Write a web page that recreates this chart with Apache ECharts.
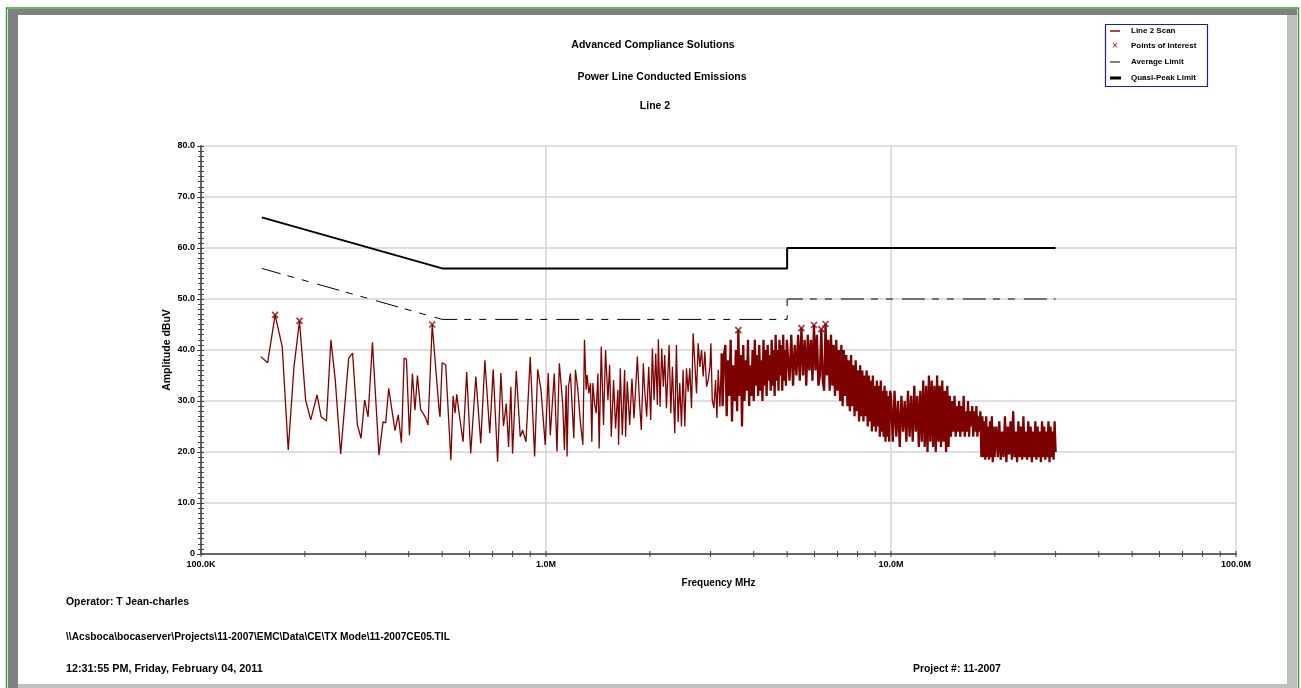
<!DOCTYPE html>
<html><head><meta charset="utf-8">
<script src="https://cdn.jsdelivr.net/npm/echarts@6/dist/echarts.min.js"></script>
<style>html,body{margin:0;padding:0;background:#fff}#c{width:1301px;height:688px}</style>
</head><body><div id="c"></div>
<script>
// ---------- texts ----------
const titleLines = ['Advanced Compliance Solutions', 'Power Line Conducted Emissions', 'Line 2'];
const footerLines = ['Operator: T Jean-charles',
  '\\\\Acsboca\\bocaserver\\Projects\\11-2007\\EMC\\Data\\CE\\TX Mode\\11-2007CE05.TIL',
  '12:31:55 PM, Friday, February 04, 2011'];
const projectText = 'Project #: 11-2007';
const legendNames = ['Line 2 Scan', 'Points of Interest', 'Average Limit', 'Quasi-Peak Limit'];
const xAxisName = 'Frequency MHz';
const yAxisName = 'Amplitude dBuV';
const xTickLabels = {0.1: '100.0K', 1: '1.0M', 10: '10.0M', 100: '100.0M'};

// ---------- data (frequency MHz, amplitude dBuV) ----------
const scanLow = [[0.149,38.7],[0.156,37.5],[0.164,46.9],[0.172,40.6],[0.179,20.4],[0.186,36.7],[0.193,45.7],[0.201,30.2],[0.208,26.3],[0.217,31.2],[0.223,26.9],[0.231,26.1],[0.238,42.0],[0.245,34.1],[0.254,19.6],[0.268,38.4],[0.275,39.4],[0.284,25.3],[0.291,22.7],[0.298,30.2],[0.305,26.9],[0.314,41.5],[0.328,19.4],[0.337,25.9],[0.343,25.7],[0.350,32.5],[0.365,24.2],[0.373,27.3],[0.381,21.8],[0.388,38.4],[0.394,38.2],[0.402,23.3],[0.410,35.4],[0.417,28.2],[0.424,35.0],[0.433,28.4],[0.448,26.7],[0.455,25.3],[0.468,45.0],[0.490,28.2],[0.493,26.9],[0.500,37.5],[0.512,37.1],[0.530,18.4],[0.538,31.0],[0.545,27.6],[0.551,31.3],[0.560,27.6]];
const scanSparse = [[0.575,22.0],[0.589,35.7],[0.605,19.7],[0.626,34.8],[0.647,21.7],[0.665,38.0],[0.687,23.7],[0.703,36.2],[0.724,18.1],[0.740,35.5],[0.753,25.1],[0.767,29.5],[0.779,21.0],[0.791,32.8],[0.800,19.7],[0.820,35.9],[0.842,23.0],[0.856,24.3],[0.875,22.0],[0.900,38.6],[0.927,19.1],[0.946,36.2],[0.967,32.2],[0.995,21.4],[1.015,35.5],[1.029,23.3],[1.057,35.4],[1.076,20.1],[1.093,37.4]];
const scanRise = [[1.118,29.5],[1.131,20.4],[1.144,33.1],[1.151,19.1],[1.162,32.8],[1.177,35.4],[1.191,28.9],[1.204,22.7],[1.217,36.1],[1.237,32.2],[1.256,26.3],[1.279,21.4],[1.293,42.0],[1.307,32.2],[1.316,35.1],[1.331,31.5],[1.346,33.5],[1.358,22.0],[1.367,33.5],[1.383,29.5],[1.398,27.6],[1.414,35.4],[1.426,20.7],[1.446,40.7],[1.468,25.3],[1.488,40.0],[1.512,30.2],[1.529,37.1],[1.546,23.0],[1.570,34.1],[1.591,24.6],[1.616,32.2],[1.623,21.4],[1.642,36.4],[1.664,23.3],[1.690,36.1],[1.701,23.0],[1.720,33.8],[1.748,25.3],[1.775,34.4],[1.799,26.6],[1.840,38.7],[1.864,30.5],[1.889,24.3],[1.915,37.4],[1.932,32.2],[1.958,26.9],[1.985,36.7],[2.011,26.3],[2.034,40.3],[2.057,30.2],[2.080,39.3],[2.103,29.2],[2.117,42.1],[2.141,28.9],[2.165,40.3],[2.189,32.8],[2.209,39.0],[2.234,28.6],[2.274,41.0],[2.300,27.6],[2.325,36.7],[2.362,23.7],[2.388,41.0],[2.415,25.9],[2.442,33.5],[2.470,25.0],[2.497,36.1],[2.525,25.0],[2.554,36.4],[2.582,31.8],[2.611,36.4],[2.641,28.6],[2.670,43.3],[2.700,43.3],[2.731,31.5],[2.761,41.3],[2.792,36.7],[2.824,40.0],[2.855,34.8],[2.887,39.7],[2.920,32.8],[2.952,34.1],[2.986,36.7],[3.006,41.3],[3.033,30.2],[3.067,28.6],[3.101,34.1],[3.129,26.6],[3.157,36.1],[3.192,28.9],[3.228,39.3]];
const scanMid = [[3.25,29],[3.28,39],[3.31,41],[3.34,27],[3.37,38],[3.40,31],[3.43,42],[3.46,26],[3.49,37],[3.52,30],[3.55,40],[3.58,28],[3.61,43.9],[3.64,31],[3.67,39],[3.70,25],[3.73,41],[3.76,30],[3.79,38],[3.82,32],[3.85,42],[3.88,29],[3.91,37],[3.94,31],[3.97,40],[4.00,30],[4.03,42],[4.06,33],[4.09,39],[4.12,31],[4.15,41],[4.18,32],[4.21,38],[4.24,30],[4.27,42],[4.30,33],[4.33,40],[4.36,31],[4.39,41],[4.42,34],[4.45,39],[4.48,32],[4.51,42],[4.54,33],[4.57,40],[4.60,31],[4.63,43],[4.66,34],[4.69,40],[4.72,32],[4.75,42],[4.78,35],[4.81,41],[4.84,32],[4.87,43],[4.90,34],[4.93,40],[4.96,33],[4.99,42]];
const scanPeak = [[5.02,42],[5.08,34],[5.14,43],[5.20,33],[5.26,41],[5.32,35],[5.38,43],[5.44,34],[5.50,44.3],[5.56,35],[5.62,42],[5.68,33],[5.74,43],[5.80,36],[5.86,42],[5.92,34],[5.98,44.9],[6.04,36],[6.10,43],[6.16,33],[6.22,35],[6.28,44.1],[6.34,34],[6.40,32],[6.46,45.1],[6.52,35],[6.58,42],[6.64,32],[6.70,43],[6.76,33],[6.82,41],[6.88,31],[6.94,42],[7.00,32],[7.06,40],[7.12,30],[7.18,41],[7.24,29],[7.30,40],[7.36,31],[7.42,39],[7.48,29],[7.54,38],[7.60,28],[7.66,39],[7.72,29],[7.78,37],[7.84,27],[7.90,38],[7.96,28],[8.02,36],[8.08,26],[8.14,37],[8.20,27],[8.26,36],[8.32,26],[8.38,35],[8.44,27],[8.50,36],[8.56,25],[8.62,35],[8.68,26],[8.74,34],[8.80,24],[8.86,35],[8.92,25],[8.98,33],[9.04,24],[9.10,34],[9.16,25],[9.22,33],[9.28,23],[9.34,34],[9.40,24],[9.46,32],[9.52,23],[9.58,33],[9.64,22],[9.70,32],[9.76,23],[9.82,31],[9.88,22],[9.94,32]];
const scanHigh = [[10.00,31],[10.12,22],[10.24,32],[10.36,23],[10.48,30],[10.60,21],[10.72,31],[10.84,24],[10.96,30],[11.08,22],[11.20,32],[11.32,23],[11.44,31],[11.56,22],[11.68,33],[11.80,24],[11.92,31],[12.04,21],[12.16,32],[12.28,22],[12.40,34],[12.52,21],[12.64,33],[12.76,20],[12.88,35],[13.00,22],[13.12,34],[13.24,21],[13.36,33],[13.48,20],[13.60,35],[13.72,22],[13.84,33],[13.96,21],[14.08,34],[14.20,22],[14.32,32],[14.44,20],[14.56,33],[14.68,21],[14.80,31],[14.92,23],[15.04,30],[15.16,24],[15.28,31],[15.40,23],[15.52,29],[15.64,24],[15.76,30],[15.88,23],[16.00,29],[16.12,24],[16.24,31],[16.36,23],[16.48,28],[16.60,24],[16.72,30],[16.84,23],[16.96,28],[17.08,25],[17.20,29],[17.32,23],[17.44,28],[17.56,24],[17.68,29],[17.80,23],[17.92,27],[18.04,24],[18.16,28],[18.28,19],[18.40,27],[18.52,19],[18.64,26],[18.76,18.5],[18.88,27],[19.00,19],[19.12,25],[19.24,18.5],[19.36,26],[19.48,19],[19.60,27],[19.72,18],[19.84,25],[19.96,19]];
const scanTop = [[20.2,25],[20.4,19],[20.6,26],[20.8,18.5],[21.0,24],[21.2,19],[21.4,27],[21.6,18],[21.8,25],[22.0,19.5],[22.2,26],[22.4,18.5],[22.6,28],[22.8,19],[23.0,24],[23.2,18],[23.4,26],[23.6,19],[23.8,25],[24.0,18.5],[24.2,27],[24.4,19],[24.6,24],[24.8,18.5],[25.0,26],[25.2,19],[25.4,25],[25.6,18],[25.8,24],[26.0,19],[26.2,26],[26.4,18.5],[26.6,25],[26.8,19],[27.0,24],[27.2,18],[27.4,26],[27.6,19],[27.8,25],[28.0,18.5],[28.2,24],[28.4,19],[28.6,26],[28.8,18],[29.0,25],[29.2,19],[29.4,24],[29.6,18.5],[29.8,26],[30.0,20]];
const pointsOfInterest = [[0.164,46.9],[0.193,45.7],[0.468,45.0],[3.61,43.9],[5.50,44.3],[5.98,44.9],[6.28,44.1],[6.46,45.1]];
const averageLimit = [[0.15,56],[0.5,46],[5,46],[5,50],[30,50]];
const quasiPeakLimit = [[0.15,66],[0.5,56],[5,56],[5,60],[30,60]];
const xTickFreq = [0.1,0.2,0.3,0.4,0.5,0.6,0.7,0.8,0.9,1,2,3,4,5,6,7,8,9,10,20,30,40,50,60,70,80,90,100];

// ---------- chart ----------
const FONT = '"Liberation Sans", Arial, sans-serif';
const sparseData = [].concat(scanLow, scanSparse, scanRise);
const denseData = [scanRise[scanRise.length - 1]].concat(scanMid, scanPeak, scanHigh, scanTop);
const chart = echarts.init(document.getElementById('c'), null, {renderer: 'canvas'});

const txt = (text, x, y, size, align) => ({
  type: 'text', silent: true, z: 10,
  style: {text, x, y, fill: '#000', font: 'bold ' + size + 'px ' + FONT,
          textAlign: align || 'left', textVerticalAlign: 'middle'}
});

const graphic = [
  // frame
  {type: 'rect', silent: true, z: 1, shape: {x: 8, y: 9, width: 10, height: 680}, style: {fill: '#808080'}},
  {type: 'rect', silent: true, z: 1, shape: {x: 8, y: 9, width: 1289, height: 6}, style: {fill: '#808080'}},
  {type: 'rect', silent: true, z: 1, shape: {x: 1287, y: 15, width: 10, height: 673}, style: {fill: '#c0c0c0'}},
  {type: 'rect', silent: true, z: 1, shape: {x: 18, y: 684, width: 1279, height: 4}, style: {fill: '#c0c0c0'}},
  {type: 'polyline', silent: true, z: 2, shape: {points: [[6.5, 690], [6.5, 8], [1298.5, 8], [1298.5, 690]]}, style: {stroke: '#3c9a3c', lineWidth: 1.5, fill: null}},
  // titles
  txt(titleLines[0], 653, 45, 10.5, 'center'),
  txt(titleLines[1], 662, 77, 10.5, 'center'),
  txt(titleLines[2], 655, 106, 10.5, 'center'),
  // footer
  txt(footerLines[0], 66, 602, 10.4),
  txt(footerLines[1], 66, 637, 10.2),
  txt(footerLines[2], 66, 669, 10.8),
  txt(projectText, 913, 669, 10.4),
  // legend box
  {type: 'rect', silent: true, z: 5, shape: {x: 1105.5, y: 24.5, width: 102, height: 62}, style: {fill: '#fff', stroke: '#1f1f9a', lineWidth: 1.2}},
  {type: 'line', silent: true, z: 6, shape: {x1: 1110, y1: 31, x2: 1120, y2: 31}, style: {stroke: '#a00000', lineWidth: 1.5}},
  {type: 'text', silent: true, z: 6, style: {text: '×', x: 1115, y: 46, fill: '#b00000', font: '10px ' + FONT, textAlign: 'center', textVerticalAlign: 'middle'}},
  {type: 'line', silent: true, z: 6, shape: {x1: 1110, y1: 62, x2: 1120, y2: 62}, style: {stroke: '#000', lineWidth: 1}},
  {type: 'line', silent: true, z: 6, shape: {x1: 1110, y1: 78, x2: 1121, y2: 78}, style: {stroke: '#000', lineWidth: 3}},
  txt(legendNames[0], 1131, 31, 8),
  txt(legendNames[1], 1131, 46, 8),
  txt(legendNames[2], 1131, 62, 8),
  txt(legendNames[3], 1131, 78, 8)
];

const axisLabelStyle = {color: '#000', fontFamily: FONT, fontWeight: 'bold', fontSize: 9};

chart.setOption({
  animation: false,
  backgroundColor: '#fff',
  graphic,
  grid: {left: 201, top: 146, width: 1035, height: 408, containLabel: false},
  xAxis: {
    type: 'log', logBase: 10, min: 0.1, max: 100,
    name: xAxisName, nameLocation: 'middle', nameGap: 24, nameMoveOverlap: false,
    nameTextStyle: {color: '#000', fontFamily: FONT, fontWeight: 'bold', fontSize: 10},
    axisLine: {show: true, lineStyle: {color: '#666', width: 2}},
    axisTick: {show: false},
    minorTick: {show: false},
    axisLabel: Object.assign({margin: 6, formatter: v => xTickLabels[Math.round(v * 10) / 10] || ''}, axisLabelStyle),
    splitLine: {show: true, lineStyle: {color: '#d4d4d4', width: 1.5}}
  },
  yAxis: [{
    type: 'value', min: 0, max: 80, interval: 10,
    name: yAxisName, nameLocation: 'middle', nameGap: 28, nameRotate: 90, nameMoveOverlap: false,
    nameTextStyle: {color: '#000', fontFamily: FONT, fontWeight: 'bold', fontSize: 10.5},
    axisLine: {show: true, lineStyle: {color: '#666', width: 2}},
    axisTick: {show: true, length: 4, lineStyle: {color: '#444'}},
    minorTick: {show: true, splitNumber: 10, length: 3, lineStyle: {color: '#444'}},
    axisLabel: Object.assign({margin: 6, formatter: v => v === 0 ? '0' : v.toFixed(1)}, axisLabelStyle),
    splitLine: {show: true, lineStyle: {color: '#d4d4d4', width: 1.5}}
  }, {
    type: 'value', min: 0, max: 80, interval: 10, position: 'left', offset: 0,
    axisLine: {show: false},
    axisTick: {show: true, inside: true, length: 3, lineStyle: {color: '#444'}},
    minorTick: {show: true, splitNumber: 10, length: 3, lineStyle: {color: '#444'}},
    axisLabel: {show: false}, splitLine: {show: false}
  }],
  series: [
    {
      name: legendNames[0], type: 'line', data: sparseData, symbol: 'none', z: 3,
      lineStyle: {color: '#800000', width: 1.3}, sampling: null
    },
    {
      name: legendNames[0], type: 'line', data: denseData, symbol: 'none', z: 3,
      lineStyle: {color: '#7c0000', width: 2.3, join: 'miter'}, sampling: null
    },
    {
      name: legendNames[1], type: 'scatter', data: pointsOfInterest, z: 4,
      symbol: 'path://M0,0L10,10M10,0L0,10', symbolSize: 6,
      itemStyle: {color: 'rgba(0,0,0,0)', borderColor: '#8b0000', borderWidth: 1.6}
    },
    {
      name: legendNames[2], type: 'line', data: averageLimit, symbol: 'none', z: 2,
      lineStyle: {color: '#000', width: 1, type: [23, 7, 7, 8, 7, 9], dashOffset: 3.4}
    },
    {
      name: legendNames[3], type: 'line', data: quasiPeakLimit, symbol: 'none', z: 2,
      lineStyle: {color: '#000', width: 2}
    },
    {
      type: 'custom', silent: true, z: 5, data: xTickFreq.map(f => [f, 0]),
      renderItem: (params, api) => {
        const p = api.coord([api.value(0), api.value(1)]);
        return {type: 'line', shape: {x1: p[0], y1: p[1] - 3, x2: p[0], y2: p[1] + 3}, style: {stroke: '#444', lineWidth: 1}};
      }
    }
  ]
});
</script>
</body></html>
